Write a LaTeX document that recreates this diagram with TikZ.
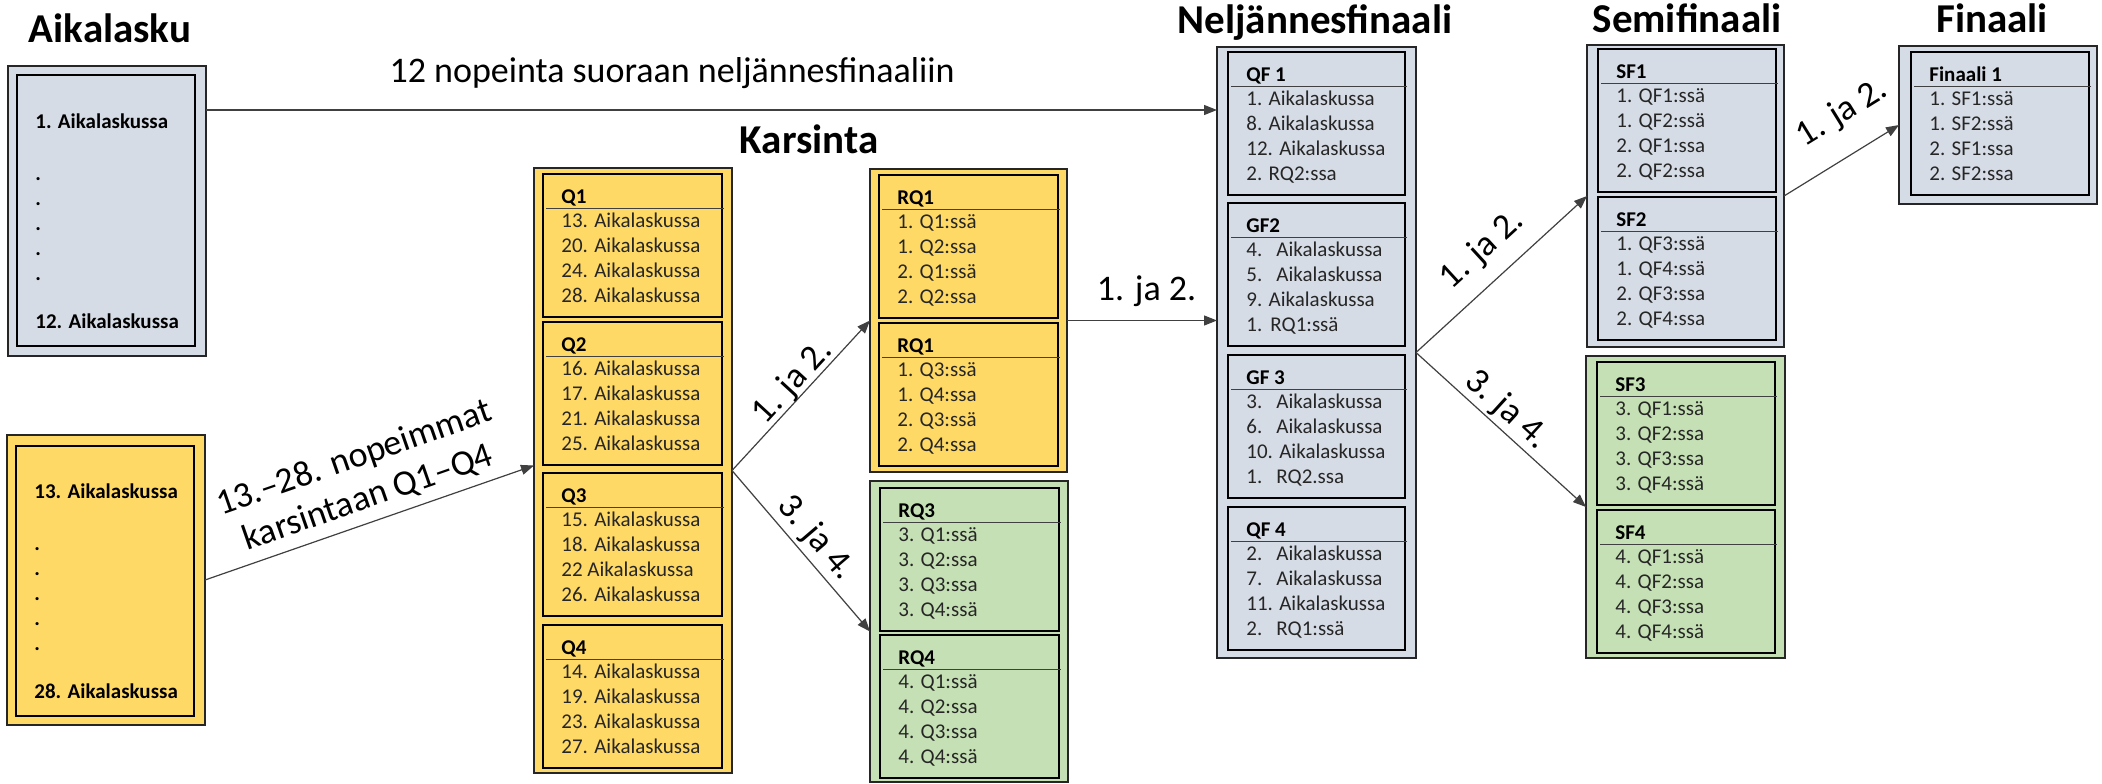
\documentclass[tikz,border=0pt]{standalone}
\usepackage{fontspec}
\setmainfont{Carlito}
\usetikzlibrary{arrows.meta,calc}
\definecolor{gb}{HTML}{D6DCE5}
\definecolor{yl}{HTML}{FFD966}
\definecolor{gr}{HTML}{C5E0B4}
\definecolor{tx}{HTML}{262626}
\definecolor{ln}{HTML}{404040}
\tikzset{
  outerbox/.style={rectangle, draw=black!85, line width=0.8pt, inner sep=0pt, outer sep=0pt},
  innerbox/.style={rectangle, draw=black, line width=1.25pt, inner sep=0pt, outer sep=0pt},
  headline/.style={draw=black!75, line width=0.5pt},
  ptitle/.style={font=\fontsize{10.5}{12}\selectfont\bfseries, anchor=base west, inner sep=0pt},
  pitem/.style={font=\fontsize{10.5}{12}\selectfont, text=tx, anchor=base west, inner sep=0pt},
  btext/.style={font=\fontsize{10.5}{12}\selectfont\bfseries, anchor=base west, inner sep=0pt},
  bigtitle/.style={font=\fontsize{20.5}{24}\selectfont\bfseries, anchor=base, inner sep=0pt},
  conn/.style={draw=ln, line width=0.6pt, -{Triangle[length=6.5pt,width=5pt]}},
  elabel/.style={font=\fontsize{18}{21}\selectfont, sloped, anchor=center, inner sep=0pt, align=center},
}
\newcommand{\obox}[6]{\node[outerbox, fill=#2, minimum width={(#5-#3)*0.5pt}, minimum height={(#6-#4)*0.5pt}] (#1) at ({(#3+#5)/2},{(#4+#6)/2}) {};}
\newcommand{\ibox}[6]{\node[innerbox, fill=#2, minimum width={(#5-#3)*0.5pt}, minimum height={(#6-#4)*0.5pt}] (#1) at ({(#3+#5)/2},{(#4+#6)/2}) {};}
\newcommand{\nb}[2][15pt]{\makebox[#1][l]{#2}}
\newcommand{\panel}[7]{%
  \ibox{#1}{#2}{#3}{#4}{#5}{#4+143}
  \draw[headline] ({#3+3},{#4+34}) -- ({#5+2},{#4+34});
  \node[ptitle] (#1-t) at ({#3+18},{#4+29}) {#6};
  \foreach \itm [count=\nn] in {#7} {\node[pitem] (#1-\nn) at ({#3+18},{#4+28+25*\nn}) {\itm};}
}
\begin{document}
\begin{tikzpicture}[x=0.5pt,y=-0.5pt]
\useasboundingbox (0,0) rectangle (2102,783);
% titles
\node[bigtitle] (tA) at (110,42) {Aikalasku};
\node[bigtitle] (tK) at (809,153) {Karsinta};
\node[bigtitle] (tN) at (1315,33) {Neljännesfinaali};
\node[bigtitle] (tS) at (1687,32) {Semifinaali};
\node[bigtitle] (tF) at (1992,32) {Finaali};
% Aikalasku box
\obox{aik}{gb}{8}{66}{206}{356}
\ibox{aikin}{gb}{17}{75}{195}{346}
\node[btext] (aik-a) at (35,128) {1. Aikalaskussa};
\foreach \yy [count=\nn] in {180,205,230,255,280} {\node[btext] (aik-d\nn) at (35,\yy) {.};}
\node[btext] (aik-b) at (35,328) {12. Aikalaskussa};
% yellow box
\obox{yel}{yl}{7}{435}{205}{725}
\ibox{yelin}{yl}{16}{446}{194}{716}
\node[btext] (yel-a) at (34,498) {13. Aikalaskussa};
\foreach \yy [count=\nn] in {550,575,600,625,650} {\node[btext] (yel-d\nn) at (34,\yy) {.};}
\node[btext] (yel-b) at (34,698) {28. Aikalaskussa};
% Karsinta Q
\obox{qo}{yl}{534}{168}{732}{773}
\panel{q1}{yl}{543}{174}{722}{Q1}{13. Aikalaskussa,20. Aikalaskussa,24. Aikalaskussa,28. Aikalaskussa}
\panel{q2}{yl}{543}{322}{722}{Q2}{16. Aikalaskussa,17. Aikalaskussa,21. Aikalaskussa,25. Aikalaskussa}
\panel{q3}{yl}{543}{473}{722}{Q3}{15. Aikalaskussa,18. Aikalaskussa,22 Aikalaskussa,26. Aikalaskussa}
\panel{q4}{yl}{543}{625}{722}{Q4}{14. Aikalaskussa,19. Aikalaskussa,23. Aikalaskussa,27. Aikalaskussa}
% RQ
\obox{rqy}{yl}{870}{169}{1067}{472}
\panel{rq1}{yl}{879}{175}{1058}{RQ1}{1. Q1:ssä,1. Q2:ssa,2. Q1:ssä,2. Q2:ssa}
\panel{rq2}{yl}{879}{323}{1058}{RQ1}{1. Q3:ssä,1. Q4:ssa,2. Q3:ssä,2. Q4:ssa}
\obox{rqg}{gr}{870}{481}{1068}{782}
\panel{rq3}{gr}{880}{488}{1059}{RQ3}{3. Q1:ssä,3. Q2:ssa,3. Q3:ssa,3. Q4:ssä}
\panel{rq4}{gr}{880}{635}{1059}{RQ4}{4. Q1:ssä,4. Q2:ssa,4. Q3:ssa,4. Q4:ssä}
% Neljännesfinaali
\obox{qfo}{gb}{1217}{47}{1416}{658}
\panel{qf1}{gb}{1228}{52}{1405}{QF 1}{1. Aikalaskussa,8. Aikalaskussa,12. Aikalaskussa,2. RQ2:ssa}
\panel{qf2}{gb}{1228}{203}{1405}{GF2}{{\nb{4.}Aikalaskussa},{\nb{5.}Aikalaskussa},9. Aikalaskussa,{\nb[12pt]{1.}RQ1:ssä}}
\panel{qf3}{gb}{1228}{355}{1405}{GF 3}{{\nb{3.}Aikalaskussa},{\nb{6.}Aikalaskussa},10. Aikalaskussa,{\nb{1.}RQ2.ssa}}
\panel{qf4}{gb}{1228}{507}{1405}{QF 4}{{\nb{2.}Aikalaskussa},{\nb{7.}Aikalaskussa},11. Aikalaskussa,{\nb{2.}RQ1:ssä}}
% Semifinaali
\obox{sfb}{gb}{1587}{45}{1784}{347}
\panel{sf1}{gb}{1598}{49}{1776}{SF1}{1. QF1:ssä,1. QF2:ssä,2. QF1:ssa,2. QF2:ssa}
\panel{sf2}{gb}{1598}{197}{1776}{SF2}{1. QF3:ssä,1. QF4:ssä,2. QF3:ssa,2. QF4:ssa}
\obox{sfg}{gr}{1586}{356}{1785}{658}
\panel{sf3}{gr}{1597}{362}{1775}{SF3}{3. QF1:ssä,3. QF2:ssa,3. QF3:ssa,3. QF4:ssä}
\panel{sf4}{gr}{1597}{510}{1775}{SF4}{4. QF1:ssä,4. QF2:ssa,4. QF3:ssa,4. QF4:ssä}
% Finaali
\obox{fo}{gb}{1899}{46}{2097}{204}
\panel{fin}{gb}{1911}{52}{2089}{Finaali 1}{1. SF1:ssä,1. SF2:ssä,2. SF1:ssa,2. SF2:ssa}
% connectors
\draw[conn] ($(aik.north east)+(0,44)$) -- node[elabel, pos=.461, yshift=18.5pt] (l1) {12 nopeinta suoraan neljännesfinaaliin} ($(qfo.north west)+(0,63)$);
\draw[conn] (yel.east) -- node[elabel, pos=.52, yshift=22.5pt] (l2) {13.–28. nopeimmat\\karsintaan Q1–Q4} ($(qo.west)+(0,-5)$);
\draw[conn] (qo.east) -- node[elabel, pos=.52, yshift=7.5pt] (l3) {1. ja 2.} (rqy.west);
\draw[conn] (qo.east) -- node[elabel, pos=.5, yshift=10pt] (l4) {3. ja 4.} (rqg.west);
\draw[conn] (rqy.east) -- node[elabel, pos=.53, yshift=14.5pt] (l5) {1. ja 2.} (qfo.west |- rqy.east);
\draw[conn] (qfo.east) -- node[elabel, pos=.51, yshift=15.5pt] (l6) {1. ja 2.} (sfb.west);
\draw[conn] (qfo.east) -- node[elabel, pos=.46, yshift=9.3pt] (l7) {3. ja 4.} (sfg.west);
\draw[conn] (sfb.east) -- node[elabel, pos=.69, yshift=20pt] (l8) {1. ja 2.} (fo.west);
\end{tikzpicture}
\end{document}
